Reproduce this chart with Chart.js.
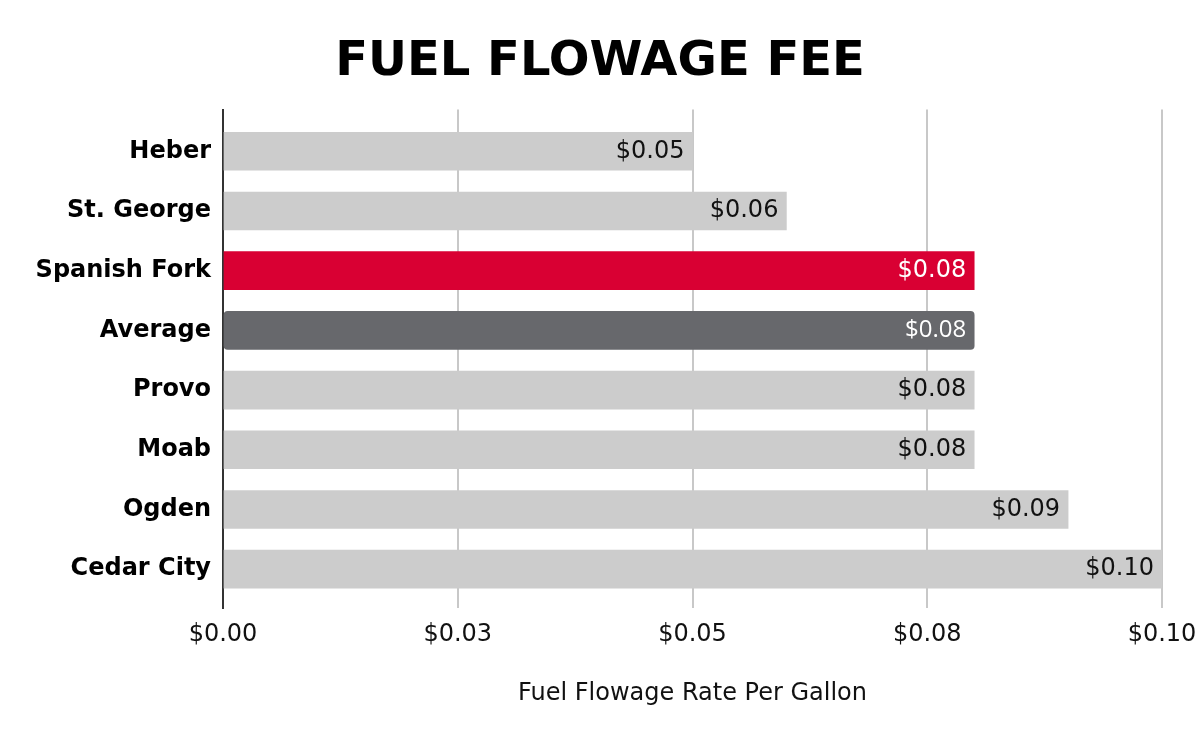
<!DOCTYPE html>
<html>
  <head>
    <title>Fuel Flowage Fee</title>
    <script src="https://cdn.jsdelivr.net/npm/chart.js@4.4.0/dist/chart.umd.min.js"></script>
  </head>

  <style>
    html, body {
      margin: 0;
      padding: 0;
      background: #ffffff;
    }

    .wrapper {
      width: 1200px;
      height: 742px;
    }
  </style>

  <body>
    <div class="wrapper">
      <canvas id="myChart" width="1200" height="742"></canvas>
    </div>

    <script>

// airports down the y-axis, top to bottom
var airports = ['Heber', 'St. George', 'Spanish Fork', 'Average', 'Provo', 'Moab', 'Ogden', 'Cedar City'];
// fee per gallon
var fees = [0.05, 0.06, 0.08, 0.08, 0.08, 0.08, 0.09, 0.10];
var feeLabels = ['$0.05', '$0.06', '$0.08', '$0.08', '$0.08', '$0.08', '$0.09', '$0.10'];
// ticks along the x-axis
var xTicks = [0, 0.025, 0.05, 0.075, 0.10];
var xTickLabels = ['$0.00', '$0.03', '$0.05', '$0.08', '$0.10'];

var barColors = airports.map(function(a){
   if (a === 'Spanish Fork') return '#d90033';
   if (a === 'Average') return '#67686c';
   return '#cccccc';
});

var points = fees.map(function(v, i){ return {x: v, y: i}; });

// value labels at the end of each bar
var barLabels = {
   id: 'barLabels',
   afterDatasetsDraw: function(chart){
      var ctx = chart.ctx;
      var meta = chart.getDatasetMeta(0);
      ctx.save();
      ctx.textAlign = 'right';
      ctx.textBaseline = 'middle';
      meta.data.forEach(function(bar, i){
         var dark = airports[i] === 'Spanish Fork' || airports[i] === 'Average';
         ctx.fillStyle = dark ? '#ffffff' : '#111111';
         ctx.font = airports[i] === 'Average' ? '24px "Open Sans"' : '24px "DejaVu Sans"';
         ctx.fillText(feeLabels[i], bar.x - 8, bar.y);
      });
      ctx.restore();
   }
};

var canvas = document.getElementById('myChart');
var myChart = new Chart(canvas.getContext('2d'), {
   type: 'bar',
   data: {
      datasets: [{
         data: points,
         backgroundColor: barColors,
         borderRadius: airports.map(function(a){ return a === 'Average' ? 4 : 0; }),
         borderSkipped: false,
         barThickness: 38
      }]
   },
   plugins: [barLabels],
   options: {
      indexAxis: 'y',
      responsive: false,
      animation: false,
      layout: { padding: 0 },
      plugins: {
         legend: { display: false },
         tooltip: { enabled: false },
         title: {
            display: true,
            text: 'FUEL FLOWAGE FEE',
            color: '#000000',
            font: { family: 'DejaVu Sans', size: 48, weight: 'bold' },
            padding: { top: 33.5, bottom: 18.4 }
         }
      },
      scales: {
         x: {
            type: 'linear',
            min: 0,
            max: 0.10,
            afterBuildTicks: function(scale){
               scale.ticks = xTicks.map(function(v){ return {value: v}; });
            },
            afterFit: function(scale){
               scale.height = 134;
               scale.paddingRight = 38;
            },
            ticks: {
               color: '#111111',
               font: { family: 'DejaVu Sans', size: 24 },
               padding: 12,
               callback: function(v, i){ return xTickLabels[i]; }
            },
            grid: { color: '#c8c8c8', lineWidth: 2, drawTicks: false },
            border: { display: false },
            title: {
               display: true,
               text: 'Fuel Flowage Rate Per Gallon',
               color: '#111111',
               font: { family: 'DejaVu Sans', size: 24 },
               padding: { top: 4, bottom: 34 }
            }
         },
         y: {
            type: 'linear',
            reverse: true,
            offset: false,
            min: -0.7,
            max: 7.65,
            afterBuildTicks: function(scale){
               scale.ticks = airports.map(function(a, i){ return {value: i}; });
            },
            afterFit: function(scale){ scale.width = 223; },
            ticks: {
               color: '#000000',
               font: { family: 'DejaVu Sans', size: 24, weight: 'bold' },
               padding: 12,
               callback: function(v){ return airports[v]; }
            },
            grid: { display: false, drawTicks: false },
            border: { display: true, color: '#333333', width: 2 }
         }
      }
   }
});

    </script>
  </body>
</html>
